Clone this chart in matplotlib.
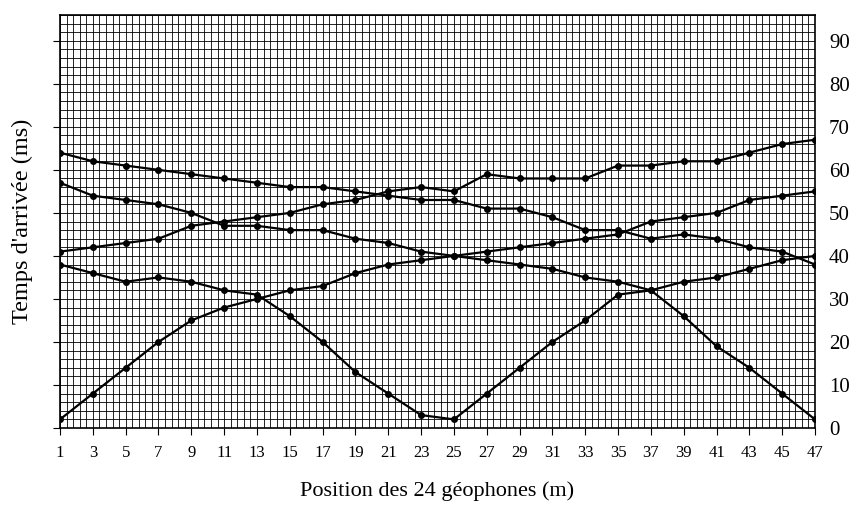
import numpy as np
import matplotlib.pyplot as plt
from matplotlib.ticker import FixedLocator

plt.rcParams['font.family'] = ['Liberation Serif', 'DejaVu Serif']

# positions des 24 géophones (m)
positions = list(range(1, 48, 2))

# temps d'arrivée (ms), une liste par courbe
t_tir_gauche = [2, 8, 14, 20, 25, 28, 30, 32, 33, 36, 38, 39,
                40, 41, 42, 43, 44, 45, 48, 49, 50, 53, 54, 55]
t_tir_milieu = [38, 36, 34, 35, 34, 32, 31, 26, 20, 13, 8, 3,
                2, 8, 14, 20, 25, 31, 32, 34, 35, 37, 39, 40]
t_tir_droite = [57, 54, 53, 52, 50, 47, 47, 46, 46, 44, 43, 41,
                40, 39, 38, 37, 35, 34, 32, 26, 19, 14, 8, 2]
t_reflex_1 = [41, 42, 43, 44, 47, 48, 49, 50, 52, 53, 55, 56,
              55, 59, 58, 58, 58, 61, 61, 62, 62, 64, 66, 67]
t_reflex_2 = [64, 62, 61, 60, 59, 58, 57, 56, 56, 55, 54, 53,
              53, 51, 51, 49, 46, 46, 44, 45, 44, 42, 41, 38]

courbes = [t_tir_gauche, t_tir_milieu, t_tir_droite, t_reflex_1, t_reflex_2]

fig = plt.figure(figsize=(8.56, 5.11), dpi=100)
ax = fig.add_axes([60 / 856, 83 / 511, 755 / 856, 413 / 511])

for t in courbes:
    ax.plot(positions, t, color='black', linewidth=1.6, marker='o',
            markersize=4, zorder=3)

ax.set_xlim(1, 47)
ax.set_ylim(0, 96)

# grille millimétrée
ax.xaxis.set_major_locator(FixedLocator(positions))
ax.xaxis.set_minor_locator(FixedLocator(np.arange(1, 47.01, 0.4)))
ax.yaxis.set_major_locator(FixedLocator(range(0, 91, 10)))
ax.yaxis.set_minor_locator(FixedLocator(range(0, 97, 2)))
ax.grid(which='both', color='black', linewidth=0.6)
ax.set_axisbelow(True)

ax.tick_params(axis='x', which='major', direction='out', length=5, width=0.8,
               pad=7, labelsize=12)
ax.tick_params(axis='y', which='major', direction='out', length=5, width=0.8,
               left=True, right=False, labelleft=False, labelright=True,
               pad=5, labelsize=15)
ax.tick_params(which='minor', length=0)

for s in ax.spines.values():
    s.set_linewidth(1.2)

ax.set_xlabel("Position des 24 géophones (m)", fontsize=16)
ax.set_ylabel("Temps d'arrivée (ms)", fontsize=17.5)
ax.xaxis.set_label_coords(0.5, -0.13)
ax.yaxis.set_label_coords(-0.036, 0.5)

plt.savefig('out.png', dpi=100)
